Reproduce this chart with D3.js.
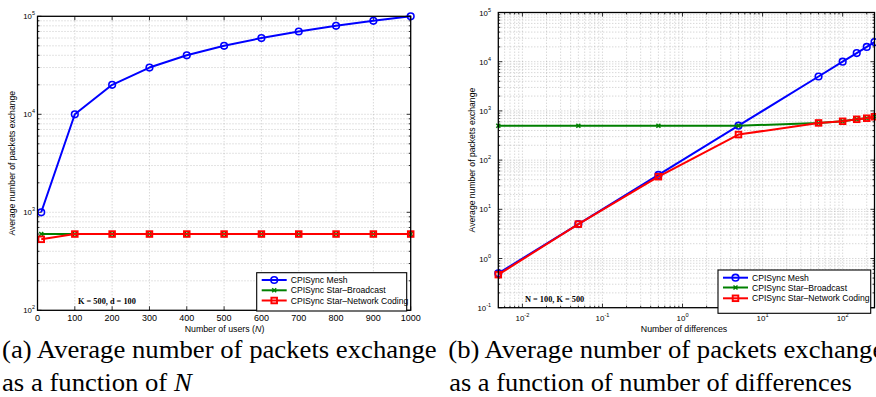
<!DOCTYPE html>
<html>
<head>
<meta charset="utf-8">
<script src="https://cdn.jsdelivr.net/npm/d3@7"></script>
<style>
  html, body { margin: 0; padding: 0; background: #fff; }
  svg { display: block; }
  .cap { font-family: 'Liberation Serif', 'Times New Roman', Times, serif; }
</style>
</head>
<body>
<svg id="chart" width="876" height="397"></svg>
<script>
// ─── Data ────────────────────────────────────────────────────────────────────
const usersN       = [10, 100, 200, 300, 400, 500, 600, 700, 800, 900, 1000];
const meshA        = [1000, 10000, 20000, 30000, 40000, 50000, 60000, 70000, 80000, 90000, 100000];
const broadcastA   = [600, 600, 600, 600, 600, 600, 600, 600, 600, 600, 600];
const codingA      = [530, 600, 600, 600, 600, 600, 600, 600, 600, 600, 600];

const diffs        = [0.005, 0.05, 0.5, 5, 50, 100, 150, 200, 250];
const meshB        = [0.5, 5, 50, 500, 5000, 10000, 15000, 20000, 25000];
const broadcastB   = [500, 500, 500, 500, 570, 615, 675, 710, 760];
const codingB      = [0.47, 5, 46, 330, 570, 615, 675, 710, 760];

const seriesNames  = ['CPISync Mesh', 'CPISync Star\u2013Broadcast', 'CPISync Star\u2013Network Coding'];
const xTicksA      = [0, 100, 200, 300, 400, 500, 600, 700, 800, 900, 1000];

// ─── Style ───────────────────────────────────────────────────────────────────
const C = {
  mesh:  '#0000ff',
  bcast: '#008000',
  code:  '#ff0000',
  grid:  '#9a9a9a',
  sans:  '"Liberation Sans", Arial, Helvetica, sans-serif',
  serif: '"Liberation Serif", "Times New Roman", serif',
};
const MARK = ['circle', 'x', 'square'];
const COL = [C.mesh, C.bcast, C.code];

const svg = d3.select('#chart');
svg.append('rect').attr('width', 876).attr('height', 397).attr('fill', '#fff');

function logTicks(domain) {
  const lo = Math.floor(Math.log10(domain[0]) + 1e-9);
  const hi = Math.ceil(Math.log10(domain[1]) - 1e-9);
  const major = [], minor = [];
  for (let e = lo; e <= hi; e++) {
    const p = Math.pow(10, e);
    if (p >= domain[0] * 0.999 && p <= domain[1] * 1.001) major.push(p);
    for (let k = 2; k <= 9; k++) {
      const v = k * p;
      if (v > domain[0] && v < domain[1]) minor.push(v);
    }
  }
  return { major, minor };
}

function powLabel(sel, v, size) {
  const e = Math.round(Math.log10(v));
  sel.append('tspan').text('10');
  sel.append('tspan').attr('dy', -4).attr('font-size', size * 0.7).text(String(e));
}

function drawMarker(g, type, x, y, color) {
  if (type === 'circle') {
    g.append('circle').attr('cx', x).attr('cy', y).attr('r', 3.3)
      .attr('fill', 'none').attr('stroke', color).attr('stroke-width', 1.6);
  } else if (type === 'x') {
    const s = 2;
    g.append('path').attr('d', `M${x - s},${y - s}L${x + s},${y + s}M${x - s},${y + s}L${x + s},${y - s}`)
      .attr('stroke', color).attr('stroke-width', 1.5);
  } else {
    g.append('rect').attr('x', x - 2.8).attr('y', y - 2.8).attr('width', 5.6).attr('height', 5.6)
      .attr('fill', 'none').attr('stroke', color).attr('stroke-width', 1.9);
  }
}

// ─── Panel renderer ──────────────────────────────────────────────────────────
function renderPanel(o) {
  const g = svg.append('g');
  const x = o.x, y = o.y;
  const [x0, x1] = x.range();
  const [y0, y1] = y.range();   // y0 bottom, y1 top

  // grid
  const yt = logTicks(y.domain());
  const yGrid = yt.major.concat(yt.minor).filter(v => y(v) < y0 - 0.5 && y(v) > y1 + 0.5);
  g.selectAll('line.ygrid').data(yGrid).enter().append('line')
    .attr('x1', x0).attr('x2', x1).attr('y1', d => y(d)).attr('y2', d => y(d))
    .attr('stroke', C.grid).attr('stroke-width', 0.55).attr('stroke-dasharray', '1,2');

  let xMajor, xMinor = [];
  if (o.xLog) { const t = logTicks(x.domain()); xMajor = t.major; xMinor = t.minor; }
  else xMajor = o.xTicks;
  const xGrid = xMajor.concat(xMinor).filter(v => x(v) > x0 + 0.5 && x(v) < x1 - 0.5);
  g.selectAll('line.xgrid').data(xGrid).enter().append('line')
    .attr('y1', y0).attr('y2', y1).attr('x1', d => x(d)).attr('x2', d => x(d))
    .attr('stroke', C.grid).attr('stroke-width', 0.55).attr('stroke-dasharray', '1,2');

  // ticks (inside, both sides)
  const tk = (vals, len, horiz) => vals.forEach(v => {
    if (horiz) {
      const p = y(v);
      g.append('line').attr('x1', x0).attr('x2', x0 + len).attr('y1', p).attr('y2', p).attr('stroke', '#000').attr('stroke-width', 0.8);
      g.append('line').attr('x1', x1).attr('x2', x1 - len).attr('y1', p).attr('y2', p).attr('stroke', '#000').attr('stroke-width', 0.8);
    } else {
      const p = x(v);
      g.append('line').attr('y1', y0).attr('y2', y0 - len).attr('x1', p).attr('x2', p).attr('stroke', '#000').attr('stroke-width', 0.8);
      g.append('line').attr('y1', y1).attr('y2', y1 + len).attr('x1', p).attr('x2', p).attr('stroke', '#000').attr('stroke-width', 0.8);
    }
  });
  tk(yt.major, 4, true); tk(yt.minor, 2, true);
  tk(xMajor, 4, false); tk(xMinor, 2, false);

  // series
  o.series.forEach((s, i) => {
    const line = d3.line().x(d => x(d[0])).y(d => y(d[1]));
    const pts = o.xs.map((xv, j) => [xv, s[j]]);
    g.append('path').attr('d', line(pts)).attr('fill', 'none')
      .attr('stroke', COL[i]).attr('stroke-width', 2).attr('stroke-linejoin', 'round');
    pts.forEach(p => drawMarker(g, MARK[i], x(p[0]), y(p[1]), COL[i]));
  });

  // box
  g.append('rect').attr('x', x0).attr('y', y1).attr('width', x1 - x0).attr('height', y0 - y1)
    .attr('fill', 'none').attr('stroke', '#000').attr('stroke-width', 1.3);

  // y tick labels
  yt.major.forEach(v => {
    const t = g.append('text').attr('x', o.yLabX).attr('y', y(v) + 3)
      .attr('text-anchor', 'end').attr('font-size', 7.8).attr('font-family', C.sans);
    powLabel(t, v, 7.8);
  });
  // x tick labels
  xMajor.forEach(v => {
    const t = g.append('text').attr('x', x(v)).attr('y', 321)
      .attr('text-anchor', 'middle').attr('font-family', C.sans);
    if (o.xLog) { t.attr('font-size', 8); powLabel(t, v, 8); }
    else t.attr('font-size', 9).text(String(v));
  });

  // axis labels
  g.append('text').attr('transform', `translate(${o.yTitleX},${(y0 + y1) / 2}) rotate(-90)`)
    .attr('text-anchor', 'middle').attr('font-size', 8.6).attr('font-family', C.sans)
    .text('Average number of packets exchange');
  const xt = g.append('text').attr('x', o.xTitleX).attr('y', 331.5)
    .attr('text-anchor', 'middle').attr('font-size', 8.8).attr('font-family', C.sans);
  o.xTitle.forEach(p => xt.append('tspan').attr('font-style', p.it ? 'italic' : 'normal').text(p.t));

  // annotation
  g.append('text').attr('x', o.note.x).attr('y', o.note.y)
    .attr('font-size', 8.3).attr('font-weight', 700).attr('font-family', C.serif)
    .text(o.note.t);

  // legend
  const L = o.legend;
  g.append('rect').attr('x', L.x).attr('y', L.y).attr('width', L.w).attr('height', L.h)
    .attr('fill', '#fff').attr('stroke', '#000').attr('stroke-width', 1.1);
  seriesNames.forEach((name, i) => {
    const ry = L.rows[i];
    g.append('line').attr('x1', L.x + 5).attr('x2', L.x + 30).attr('y1', ry).attr('y2', ry)
      .attr('stroke', COL[i]).attr('stroke-width', 2);
    drawMarker(g, MARK[i], L.x + 17.5, ry, COL[i]);
    g.append('text').attr('x', L.x + 34).attr('y', ry + 3)
      .attr('font-size', 8.6).attr('font-family', C.sans).text(name);
  });
}

// ─── Panel (a) ───────────────────────────────────────────────────────────────
renderPanel({
  x: d3.scaleLinear().domain([0, 1000]).range([37.5, 410.7]),
  y: d3.scaleLog().domain([100, 100000]).range([310.3, 16.3]),
  xLog: false, xTicks: xTicksA, xs: usersN,
  series: [meshA, broadcastA, codingA],
  yLabX: 35, yTitleX: 15, xTitleX: 224.5,
  xTitle: [{ t: 'Number of users (' }, { t: 'N', it: true }, { t: ')' }],
  note: { x: 78, y: 303.5, t: 'K = 500, d = 100' },
  legend: { x: 256.7, y: 272.7, w: 150, h: 38.3, rows: [280, 290.3, 300.5] },
});

// ─── Panel (b) ───────────────────────────────────────────────────────────────
renderPanel({
  x: d3.scaleLog().domain([0.005, 250]).range([498.3, 874.5]),
  y: d3.scaleLog().domain([0.1, 100000]).range([307.7, 12.5]),
  xLog: true, xs: diffs,
  series: [meshB, broadcastB, codingB],
  yLabX: 491, yTitleX: 474.5, xTitleX: 684,
  xTitle: [{ t: 'Number of differences' }],
  note: { x: 525, y: 302, t: 'N = 100, K = 500' },
  legend: { x: 718, y: 270, w: 152.7, h: 43.3, rows: [277.7, 287.5, 298.3] },
});

// ─── Captions ────────────────────────────────────────────────────────────────
function caption(x, yb, len, parts) {
  const t = svg.append('text').attr('class', 'cap').attr('x', x).attr('y', yb)
    .attr('font-size', 24.5)
    .attr('textLength', len).attr('lengthAdjust', 'spacingAndGlyphs');
  parts.forEach(p => t.append('tspan').attr('font-style', p.it ? 'italic' : 'normal').text(p.t));
}
caption(2, 357.5, 434.7, [{ t: '(a) Average number of packets exchange' }]);
caption(2, 391, 189.7, [{ t: 'as a function of ' }, { t: 'N', it: true }]);
caption(448.3, 357.5, 436, [{ t: '(b) Average number of packets exchange' }]);
caption(449.3, 391, 402.4, [{ t: 'as a function of number of differences' }]);
</script>
</body>
</html>
